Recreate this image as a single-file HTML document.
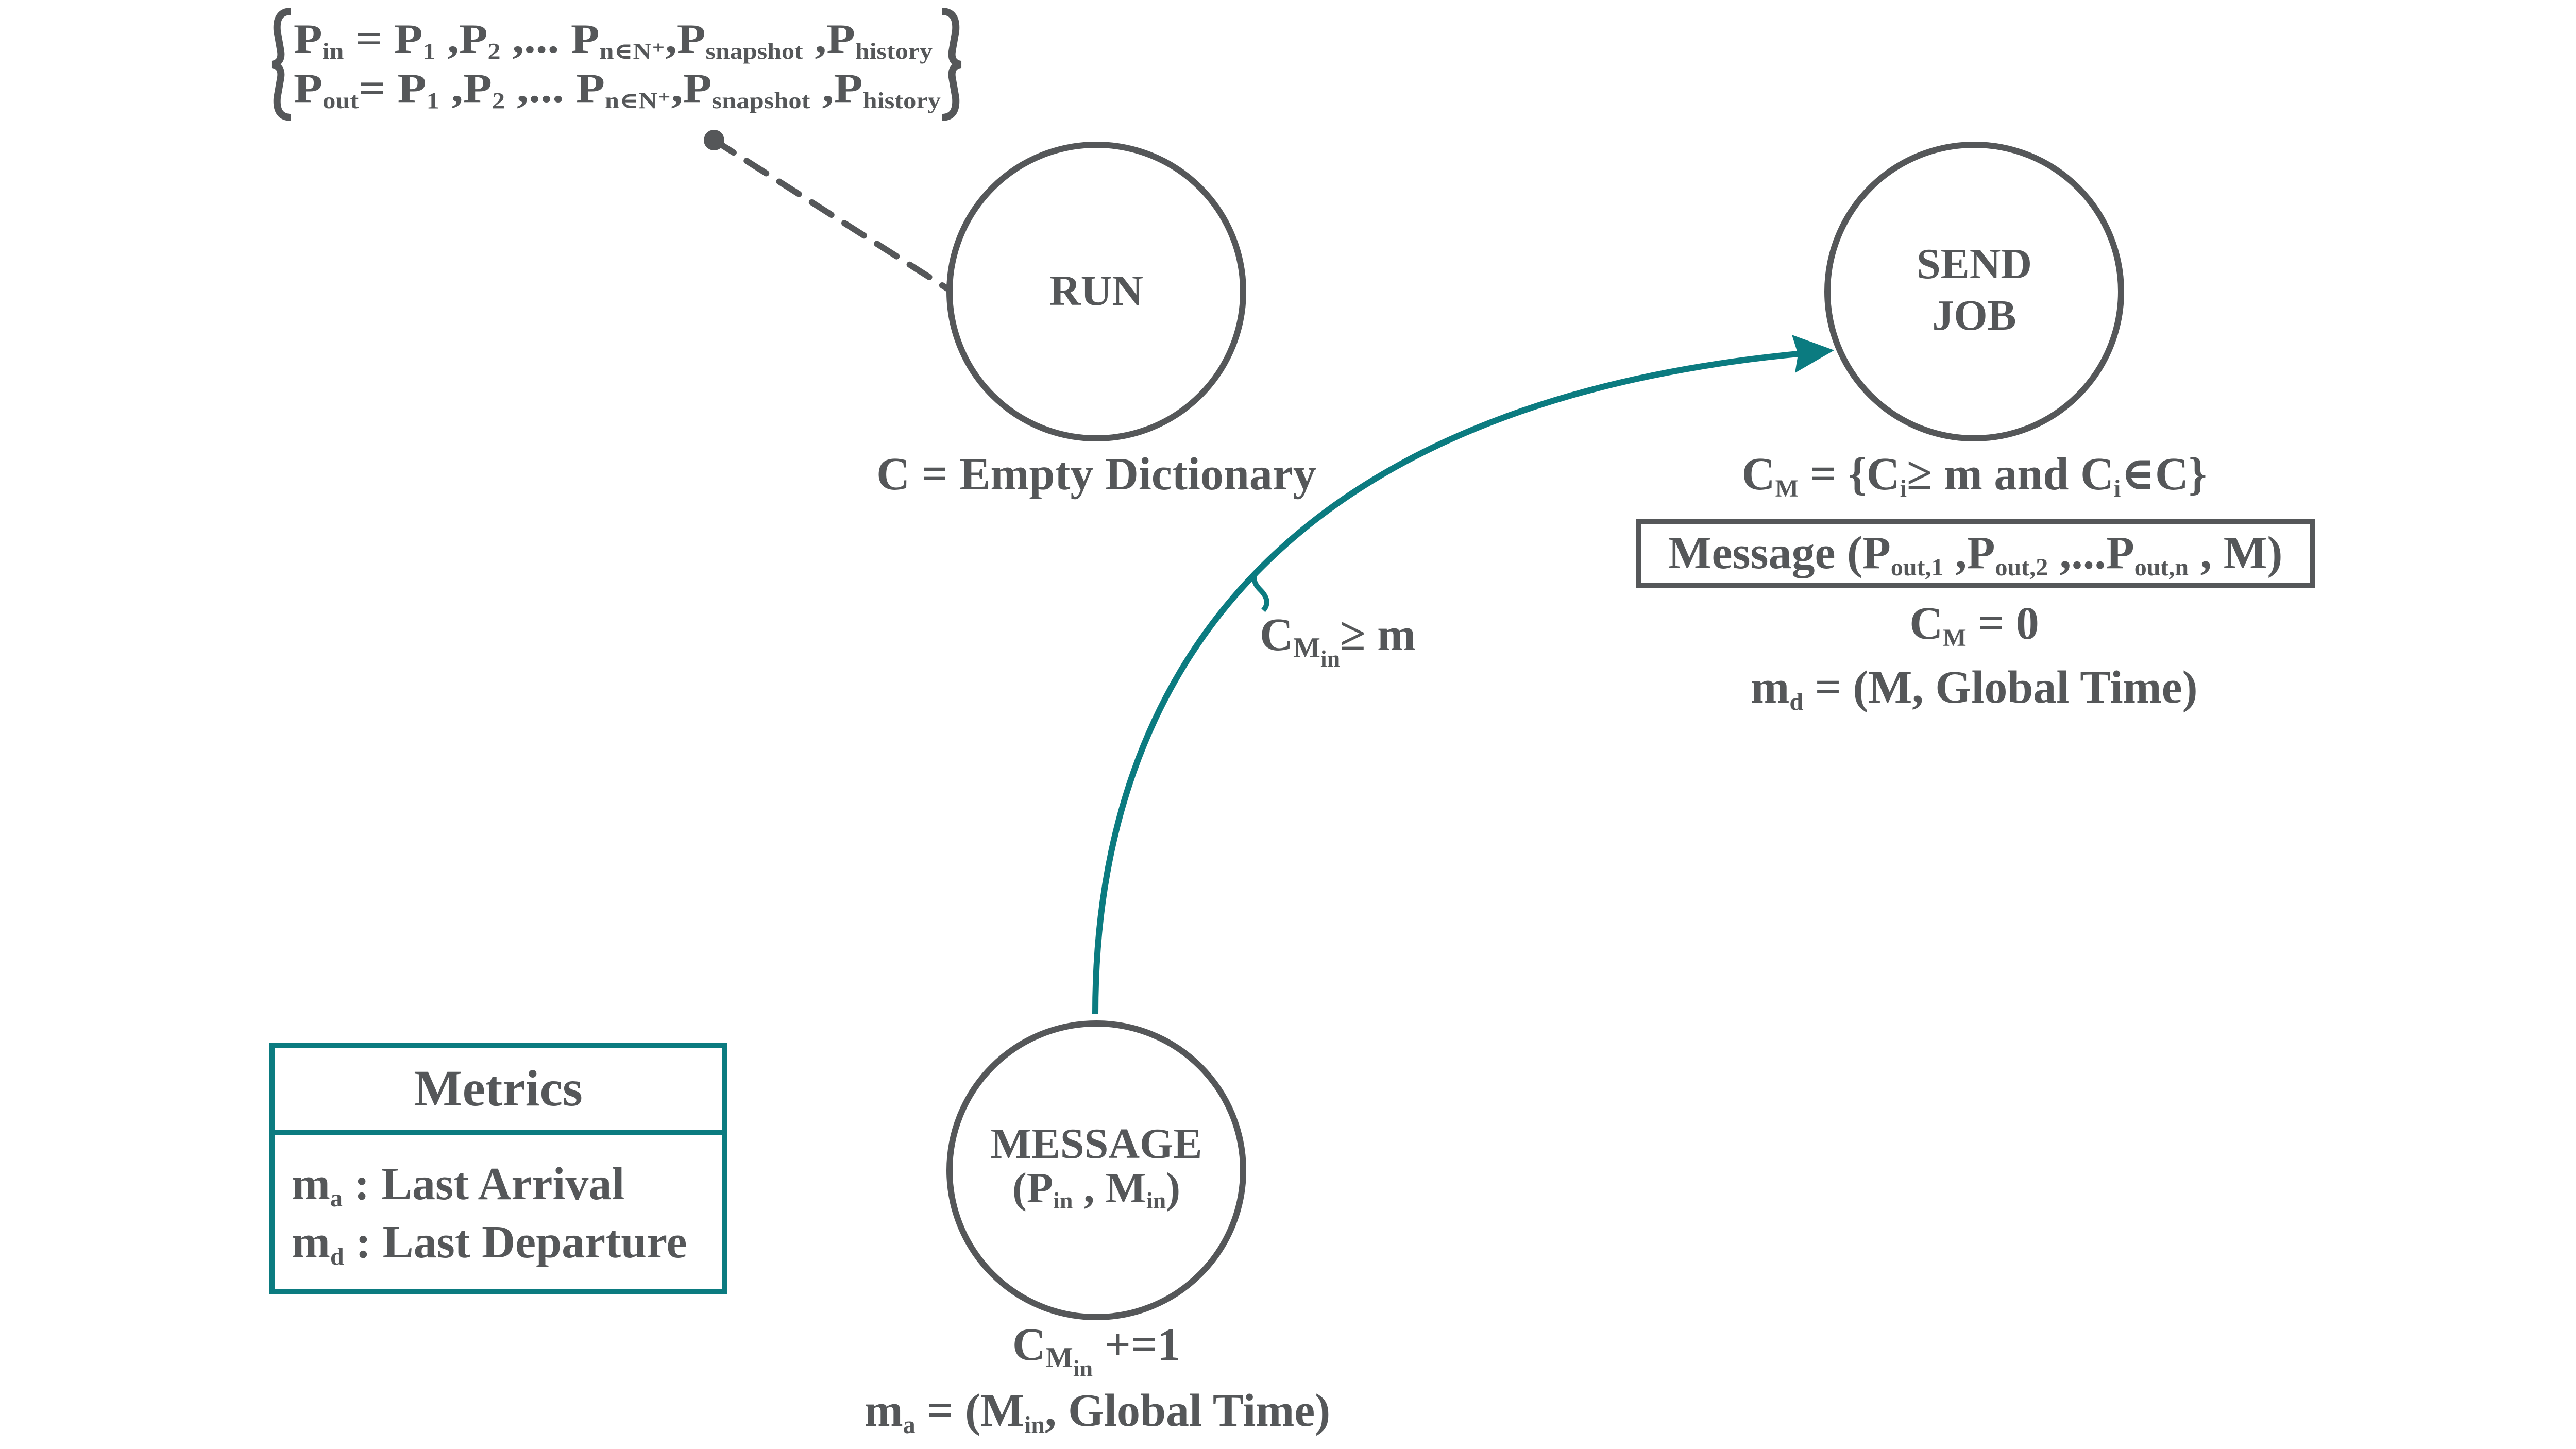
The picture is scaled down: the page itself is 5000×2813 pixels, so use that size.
<!DOCTYPE html>
<html><head><meta charset="utf-8"><style>
html,body{margin:0;padding:0;background:#fff}
svg{display:block}
text{font-family:"Liberation Serif","DejaVu Serif",serif;font-weight:bold;fill:#555759}
</style></head><body>
<svg width="5000" height="2813" viewBox="0 0 5000 2813" xmlns="http://www.w3.org/2000/svg">
<rect width="5000" height="2813" fill="#fff"/>

<!-- formula braces -->
<path d="M565 22 Q535 22 538 60 L545 100 Q548 122 528 125 Q548 128 545 150 L538 190 Q535 228 565 228" fill="none" stroke="#555759" stroke-width="14"/>
<path d="M1828 22 Q1858 22 1855 60 L1848 100 Q1845 122 1865 125 Q1845 128 1848 150 L1855 190 Q1858 228 1828 228" fill="none" stroke="#555759" stroke-width="14"/>
<text x="570" y="102" font-size="80" textLength="1240" lengthAdjust="spacingAndGlyphs">P<tspan font-size="44" dy="12">in</tspan><tspan dy="-12"> = P</tspan><tspan font-size="44" dy="12">1</tspan><tspan dy="-12"> ,P</tspan><tspan font-size="44" dy="12">2</tspan><tspan dy="-12"> ,... P</tspan><tspan font-size="44" dy="12">n∈N⁺</tspan><tspan dy="-12">,P</tspan><tspan font-size="44" dy="12">snapshot</tspan><tspan dy="-12"> ,P</tspan><tspan font-size="44" dy="12">history</tspan></text>
<text x="570" y="198" font-size="80" textLength="1256" lengthAdjust="spacingAndGlyphs">P<tspan font-size="44" dy="12">out</tspan><tspan dy="-12">= P</tspan><tspan font-size="44" dy="12">1</tspan><tspan dy="-12"> ,P</tspan><tspan font-size="44" dy="12">2</tspan><tspan dy="-12"> ,... P</tspan><tspan font-size="44" dy="12">n∈N⁺</tspan><tspan dy="-12">,P</tspan><tspan font-size="44" dy="12">snapshot</tspan><tspan dy="-12"> ,P</tspan><tspan font-size="44" dy="12">history</tspan></text>

<!-- dashed connector -->
<circle cx="1386" cy="272" r="20" fill="#555759"/>
<line x1="1386" y1="272" x2="1843" y2="563" stroke="#555759" stroke-width="12" stroke-dasharray="45,30" stroke-linecap="round"/>

<!-- circles -->
<circle cx="2128" cy="566" r="285" fill="#fff" stroke="#555759" stroke-width="12"/>
<circle cx="3832" cy="566" r="285" fill="#fff" stroke="#555759" stroke-width="12"/>
<circle cx="2128" cy="2272" r="285" fill="#fff" stroke="#555759" stroke-width="12"/>

<text x="2128" y="592" font-size="84" text-anchor="middle">RUN</text>
<text x="3832" y="540" font-size="84" text-anchor="middle">SEND</text>
<text x="3832" y="640" font-size="84" text-anchor="middle">JOB</text>
<text x="2128" y="2248" font-size="84" text-anchor="middle">MESSAGE</text>
<text x="2128" y="2334" font-size="84" text-anchor="middle">(P<tspan font-size="46" dy="12">in</tspan><tspan dy="-12"> , M</tspan><tspan font-size="46" dy="12">in</tspan><tspan dy="-12">)</tspan></text>

<text x="2128" y="950" font-size="90" text-anchor="middle">C = Empty Dictionary</text>

<text x="3832" y="950" font-size="90" text-anchor="middle">C<tspan font-size="48" dy="14">M</tspan><tspan dy="-14"> = {C</tspan><tspan font-size="48" dy="14">i</tspan><tspan dy="-14">≥ m and C</tspan><tspan font-size="48" dy="14">i</tspan><tspan dy="-14">∈C}</tspan></text>
<rect x="3180" y="1012" width="1308" height="125" fill="none" stroke="#555759" stroke-width="10"/>
<text x="3834" y="1103" font-size="90" text-anchor="middle">Message (P<tspan font-size="48" dy="14">out,1</tspan><tspan dy="-14"> ,P</tspan><tspan font-size="48" dy="14">out,2</tspan><tspan dy="-14"> ,...P</tspan><tspan font-size="48" dy="14">out,n</tspan><tspan dy="-14"> , M)</tspan></text>
<text x="3832" y="1240" font-size="90" text-anchor="middle">C<tspan font-size="48" dy="14">M</tspan><tspan dy="-14"> = 0</tspan></text>
<text x="3832" y="1364" font-size="90" text-anchor="middle">m<tspan font-size="48" dy="14">d</tspan><tspan dy="-14"> = (M, Global Time)</tspan></text>

<!-- teal arrow -->
<path d="M2126 1968 C2126 1300 2500 780 3500 686" fill="none" stroke="#0b7b80" stroke-width="12"/>
<polygon points="3560,680 3478,650 3490,688 3484,724" fill="#0b7b80"/>
<path d="M2444 1105 q-20 18 2 40 q22 22 6 40" fill="none" stroke="#0b7b80" stroke-width="10"/>
<text x="2445" y="1262" font-size="90">C<tspan font-size="56" dy="14">M</tspan><tspan font-size="46" dy="18">in</tspan><tspan dy="-32">≥ m</tspan></text>

<!-- message labels -->
<text x="2128" y="2640" font-size="90" text-anchor="middle">C<tspan font-size="56" dy="14">M</tspan><tspan font-size="46" dy="18">in</tspan><tspan dy="-32"> +=1</tspan></text>
<text x="2130" y="2768" font-size="90" text-anchor="middle">m<tspan font-size="48" dy="14">a</tspan><tspan dy="-14"> = (M</tspan><tspan font-size="48" dy="14">in</tspan><tspan dy="-14">, Global Time)</tspan></text>

<!-- metrics -->
<rect x="528" y="2029" width="879" height="479" fill="#fff" stroke="#0b7b80" stroke-width="10"/>
<line x1="528" y1="2199" x2="1407" y2="2199" stroke="#0b7b80" stroke-width="10"/>
<text x="967" y="2146" font-size="100" text-anchor="middle">Metrics</text>
<text x="566" y="2328" font-size="90">m<tspan font-size="48" dy="14">a</tspan><tspan dy="-14"> : Last Arrival</tspan></text>
<text x="566" y="2441" font-size="90">m<tspan font-size="48" dy="14">d</tspan><tspan dy="-14"> : Last Departure</tspan></text>
</svg>
</body></html>
